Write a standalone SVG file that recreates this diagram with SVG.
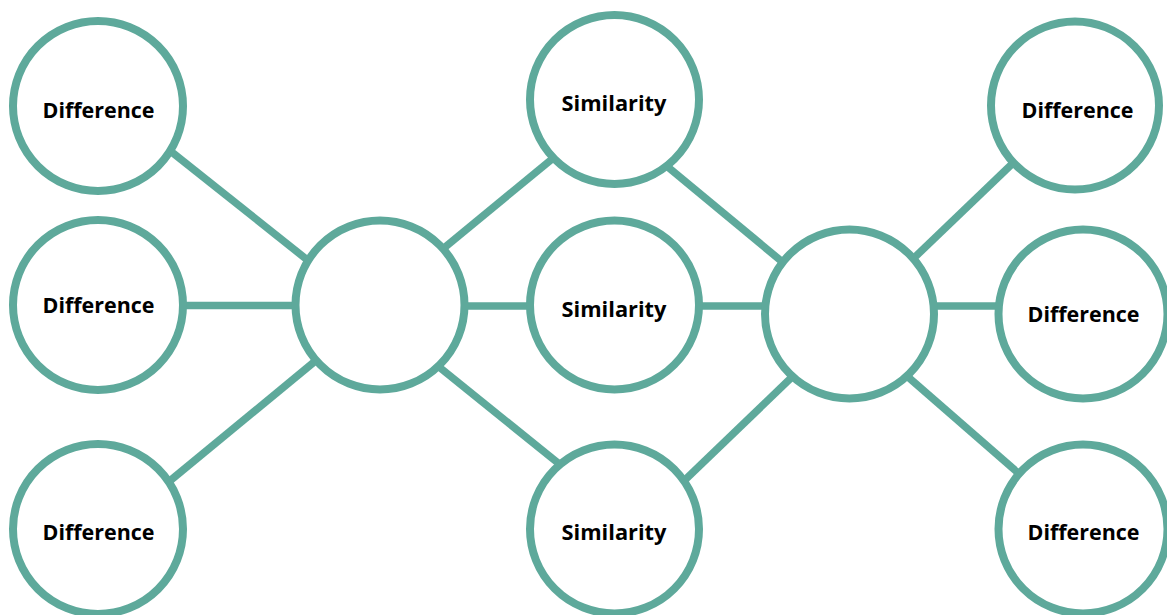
<svg xmlns="http://www.w3.org/2000/svg" width="1167" height="615" viewBox="0 0 1167 615">
<style>
.edge{stroke:#5ea99b;stroke-width:7.5;stroke-linecap:butt;fill:none}
.node{fill:#ffffff;stroke:#5ea99b;stroke-width:8}
.lbl{font-family:"Open Sans","Liberation Sans",sans-serif;font-weight:700;font-size:21px;fill:#000000}
</style>
<rect width="1167" height="615" fill="#ffffff"/>
<g id="connectors">
<line class="edge" x1="160" y1="142.7" x2="320" y2="270"/>
<line class="edge" x1="180" y1="305.5" x2="300" y2="305.5"/>
<line class="edge" x1="160" y1="489" x2="325" y2="353"/>
<line class="edge" x1="430" y1="259.5" x2="565" y2="148.3"/>
<line class="edge" x1="460" y1="306" x2="535" y2="306"/>
<line class="edge" x1="425" y1="355.7" x2="570" y2="472.7"/>
<line class="edge" x1="655" y1="156.4" x2="795" y2="272.4"/>
<line class="edge" x1="690" y1="306" x2="775" y2="306"/>
<line class="edge" x1="675" y1="489.5" x2="805" y2="364.5"/>
<line class="edge" x1="900" y1="271.4" x2="1025" y2="151.5"/>
<line class="edge" x1="920" y1="306" x2="1010" y2="306"/>
<line class="edge" x1="895" y1="365.7" x2="1030" y2="483.3"/>
</g>
<g id="diff-left-top"><circle class="node" cx="98" cy="106" r="85"/><text class="lbl" x="42.5" y="118" textLength="112" lengthAdjust="spacingAndGlyphs">Difference</text></g>
<g id="diff-left-mid"><circle class="node" cx="98" cy="305" r="85"/><text class="lbl" x="42.5" y="313" textLength="112" lengthAdjust="spacingAndGlyphs">Difference</text></g>
<g id="diff-left-bottom"><circle class="node" cx="98" cy="529" r="85"/><text class="lbl" x="42.5" y="540" textLength="112" lengthAdjust="spacingAndGlyphs">Difference</text></g>
<g id="center-left"><circle class="node" cx="380" cy="305" r="84.5"/></g>
<g id="sim-top"><circle class="node" cx="614.5" cy="99.5" r="84.5"/><text class="lbl" x="561.5" y="111" textLength="105" lengthAdjust="spacingAndGlyphs">Similarity</text></g>
<g id="sim-mid"><circle class="node" cx="614.5" cy="305" r="84.5"/><text class="lbl" x="561.5" y="317" textLength="105" lengthAdjust="spacingAndGlyphs">Similarity</text></g>
<g id="sim-bottom"><circle class="node" cx="614.5" cy="529" r="84.5"/><text class="lbl" x="561.5" y="540" textLength="105" lengthAdjust="spacingAndGlyphs">Similarity</text></g>
<g id="center-right"><circle class="node" cx="849.5" cy="314" r="84.5"/></g>
<g id="diff-right-top"><circle class="node" cx="1075" cy="105.5" r="84"/><text class="lbl" x="1021.5" y="118" textLength="112" lengthAdjust="spacingAndGlyphs">Difference</text></g>
<g id="diff-right-mid"><circle class="node" cx="1083" cy="314" r="84.5"/><text class="lbl" x="1027.5" y="321.5" textLength="112" lengthAdjust="spacingAndGlyphs">Difference</text></g>
<g id="diff-right-bottom"><circle class="node" cx="1083" cy="529" r="84.5"/><text class="lbl" x="1027.5" y="540" textLength="112" lengthAdjust="spacingAndGlyphs">Difference</text></g>
</svg>
